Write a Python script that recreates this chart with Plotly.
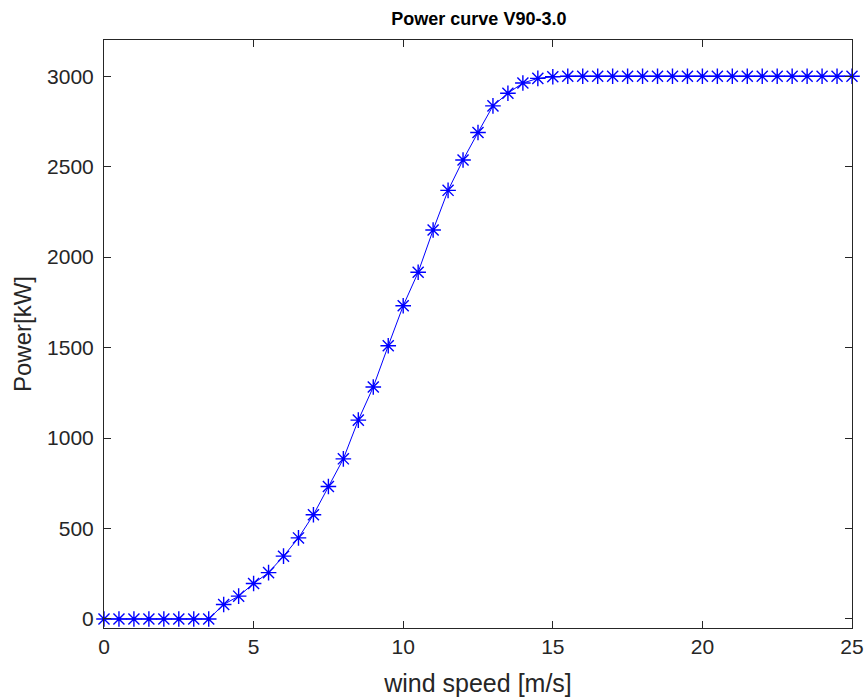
import plotly.graph_objects as go

wind_speed = [0, 0.5, 1, 1.5, 2, 2.5, 3, 3.5, 4, 4.5, 5, 5.5, 6, 6.5, 7, 7.5, 8, 8.5,
              9, 9.5, 10, 10.5, 11, 11.5, 12, 12.5, 13, 13.5, 14, 14.5, 15, 15.5,
              16, 16.5, 17, 17.5, 18, 18.5, 19, 19.5, 20, 20.5, 21, 21.5, 22, 22.5,
              23, 23.5, 24, 24.5, 25]
power = [0, 0, 0, 0, 0, 0, 0, 0, 80, 126, 196, 256, 347, 448, 576, 732, 885, 1099,
         1282, 1510, 1731, 1916, 2150, 2369, 2537, 2689, 2836, 2906, 2962, 2988, 2997, 3000,
         3000, 3000, 3000, 3000, 3000, 3000, 3000, 3000, 3000, 3000, 3000, 3000, 3000, 3000,
         3000, 3000, 3000, 3000, 3000]

x_ticks = [0, 5, 10, 15, 20, 25]
y_ticks = [0, 500, 1000, 1500, 2000, 2500, 3000]

FONT = "Liberation Sans, Arial"

fig = go.Figure()
fig.add_trace(go.Scatter(
    x=wind_speed, y=power, mode="lines+markers",
    line=dict(color="#0000ff", width=1),
    marker=dict(symbol="asterisk-open", size=13, color="#0000ff",
                line=dict(color="#0000ff", width=1.4)),
    showlegend=False, cliponaxis=False,
))

axis_style = dict(
    showline=True, linecolor="#262626", linewidth=1, mirror="ticks",
    ticks="inside", ticklen=7, tickcolor="#262626", showgrid=False, zeroline=False,
    tickfont=dict(family=FONT, size=21, color="#262626"), automargin=False,
    ticklabeloverflow="allow",
)

fig.update_xaxes(range=[0, 25], tickvals=x_ticks,
                 title=dict(text="wind speed [m/s]", standoff=17,
                            font=dict(family=FONT, size=25, color="#262626")),
                 **axis_style)
fig.update_yaxes(range=[-50, 3200], tickvals=y_ticks, ticklabelstandoff=5,
                 title=dict(text="Power[kW]", standoff=8,
                            font=dict(family=FONT, size=24, color="#262626")),
                 **axis_style)

fig.update_layout(
    width=866, height=700,
    margin=dict(l=104, r=14, t=40, b=72),
    paper_bgcolor="white", plot_bgcolor="white",
    title=dict(text="<b>Power curve V90-3.0</b>", x=0.553, xanchor="center", y=0.974,
               yanchor="middle",
               font=dict(family=FONT, size=18, color="black")),
)

# drop the default page margin so the figure sits at the window corner
fig.write_html("out.html", config={"displayModeBar": False},
               post_script="document.body.style.margin='0';document.body.style.overflow='hidden';")
